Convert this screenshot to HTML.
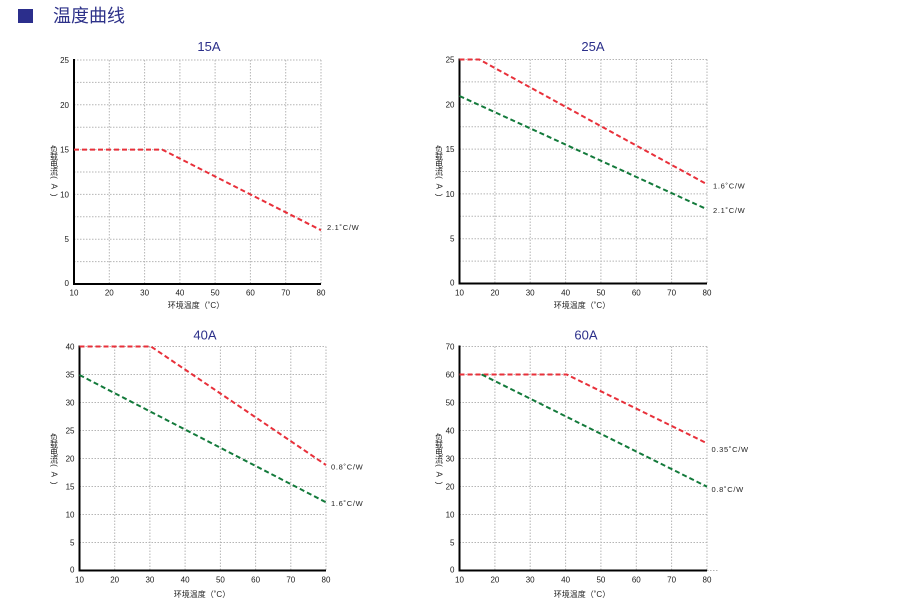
<!DOCTYPE html>
<html><head><meta charset="utf-8">
<style>
html,body{margin:0;padding:0;background:#fff;}
svg{display:block;}
.t{font-family:"Liberation Sans","Noto Sans CJK SC",sans-serif;font-size:8px;fill:#1a1a1a;}
.ti{font-family:"Liberation Sans",sans-serif;font-size:13px;fill:#2b2f8a;text-anchor:middle;}
.cj{font-family:"Liberation Sans","Noto Sans CJK SC",sans-serif;font-size:8px;fill:#222;text-anchor:middle;}
.pa{font-family:"Liberation Sans",sans-serif;font-size:8px;fill:#222;text-anchor:middle;letter-spacing:1.5px;}
.ax{font-family:"Liberation Sans","Noto Sans CJK SC",sans-serif;font-size:8px;fill:#222;text-anchor:middle;}
.lb{font-family:"Liberation Sans",sans-serif;font-size:7.5px;fill:#222;letter-spacing:0.7px;}
.g{stroke:#b5b5b5;stroke-width:1;stroke-dasharray:1.5 1.5;fill:none;}
.a{stroke:#000;stroke-width:2;fill:none;}
.r{stroke:#e8303a;stroke-width:2;stroke-dasharray:5 3;fill:none;}
.gr{stroke:#137a3b;stroke-width:2;stroke-dasharray:5 3;fill:none;}
</style></head>
<body>
<svg width="900" height="614" viewBox="0 0 900 614" xmlns="http://www.w3.org/2000/svg">
<!-- header -->
<rect x="18" y="9" width="15" height="14" fill="#2b2e8c"/>
<text x="53" y="22" font-family="'Liberation Sans','Noto Sans CJK SC',sans-serif" font-size="18" fill="#2d3189">温度曲线</text>

<!-- ============ Chart 1: 15A ============ -->
<text class="ti" x="209" y="51">15A</text>
<path class="g" d="M109.3 60V284M144.6 60V284M179.9 60V284M215.1 60V284M250.4 60V284M285.7 60V284M321 60V284
M74 261.6H321M74 239.2H321M74 216.8H321M74 194.4H321M74 172H321M74 149.6H321M74 127.2H321M74 104.8H321M74 82.4H321M74 60H321"/>
<path class="a" d="M74 59V285M73 284H321"/>
<g class="t" text-anchor="end">
<text x="69" y="63">25</text><text x="69" y="107.8">20</text><text x="69" y="152.6">15</text>
<text x="69" y="197.4">10</text><text x="69" y="242.2">5</text><text x="69" y="286">0</text>
</g>
<g class="t" text-anchor="middle">
<text x="74" y="295.5">10</text><text x="109.3" y="295.5">20</text><text x="144.6" y="295.5">30</text><text x="179.9" y="295.5">40</text>
<text x="215.1" y="295.5">50</text><text x="250.4" y="295.5">60</text><text x="285.7" y="295.5">70</text><text x="321" y="295.5">80</text>
</g>
<text class="ax" x="196" y="308">环境温度（˚C）</text>
<g class="cj"><text x="54" y="152">负</text><text x="54" y="159.5">载</text><text x="54" y="167">电</text><text x="54" y="174.5">流</text></g>
<text class="pa" transform="translate(51.5,187) rotate(90)">( A )</text>
<path class="r" d="M74 149.6H162.2L321 230.2"/>
<text class="lb" x="327" y="230">2.1˚C/W</text>

<!-- ============ Chart 2: 25A ============ -->
<text class="ti" x="593" y="51">25A</text>
<path class="g" d="M494.9 59.5V283.5M530.2 59.5V283.5M565.6 59.5V283.5M600.9 59.5V283.5M636.3 59.5V283.5M671.6 59.5V283.5M707 59.5V283.5
M459.5 261.1H707M459.5 238.7H707M459.5 216.3H707M459.5 193.9H707M459.5 171.5H707M459.5 149.1H707M459.5 126.7H707M459.5 104.3H707M459.5 81.9H707M459.5 59.5H707"/>
<path class="a" d="M459.5 58.5V284.5M458.5 283.5H707"/>
<g class="t" text-anchor="end">
<text x="454.5" y="62.5">25</text><text x="454.5" y="107.3">20</text><text x="454.5" y="152.1">15</text>
<text x="454.5" y="196.9">10</text><text x="454.5" y="241.7">5</text><text x="454.5" y="285.5">0</text>
</g>
<g class="t" text-anchor="middle">
<text x="459.5" y="295.5">10</text><text x="494.9" y="295.5">20</text><text x="530.2" y="295.5">30</text><text x="565.6" y="295.5">40</text>
<text x="600.9" y="295.5">50</text><text x="636.3" y="295.5">60</text><text x="671.6" y="295.5">70</text><text x="707" y="295.5">80</text>
</g>
<text class="ax" x="582" y="308">环境温度（˚C）</text>
<g class="cj"><text x="439" y="152">负</text><text x="439" y="159.5">载</text><text x="439" y="167">电</text><text x="439" y="174.5">流</text></g>
<text class="pa" transform="translate(436.5,187) rotate(90)">( A )</text>
<path class="r" d="M459.5 59.5H479.3L707 184.3"/>
<path class="gr" d="M459.5 96L707 209.3"/>
<text class="lb" x="713" y="188.5">1.6˚C/W</text>
<text class="lb" x="713" y="213">2.1˚C/W</text>

<!-- ============ Chart 3: 40A ============ -->
<text class="ti" x="205" y="339.5">40A</text>
<path class="g" d="M114.7 346.5V570.5M149.9 346.5V570.5M185.1 346.5V570.5M220.4 346.5V570.5M255.6 346.5V570.5M290.8 346.5V570.5M326 346.5V570.5
M79.5 542.5H326M79.5 514.5H326M79.5 486.5H326M79.5 458.5H326M79.5 430.5H326M79.5 402.5H326M79.5 374.5H326M79.5 346.5H326"/>
<path class="a" d="M79.5 345.5V571.5M78.5 570.5H326"/>
<g class="t" text-anchor="end">
<text x="74.5" y="349.5">40</text><text x="74.5" y="377.5">35</text><text x="74.5" y="405.5">30</text><text x="74.5" y="433.5">25</text>
<text x="74.5" y="461.5">20</text><text x="74.5" y="489.5">15</text><text x="74.5" y="517.5">10</text><text x="74.5" y="545.5">5</text><text x="74.5" y="572.5">0</text>
</g>
<g class="t" text-anchor="middle">
<text x="79.5" y="582.5">10</text><text x="114.7" y="582.5">20</text><text x="149.9" y="582.5">30</text><text x="185.1" y="582.5">40</text>
<text x="220.4" y="582.5">50</text><text x="255.6" y="582.5">60</text><text x="290.8" y="582.5">70</text><text x="326" y="582.5">80</text>
</g>
<text class="ax" x="202" y="597">环境温度（˚C）</text>
<g class="cj"><text x="54" y="440">负</text><text x="54" y="447.5">载</text><text x="54" y="455">电</text><text x="54" y="462.5">流</text></g>
<text class="pa" transform="translate(51.5,475) rotate(90)">( A )</text>
<path class="r" d="M79.5 346.5H151L326 465"/>
<path class="gr" d="M79.5 375L326 502.3"/>
<text class="lb" x="331" y="469.5">0.8˚C/W</text>
<text class="lb" x="331" y="506">1.6˚C/W</text>

<!-- ============ Chart 4: 60A ============ -->
<text class="ti" x="586" y="339.5">60A</text>
<path class="g" d="M494.9 346.5V570.5M530.2 346.5V570.5M565.6 346.5V570.5M600.9 346.5V570.5M636.3 346.5V570.5M671.6 346.5V570.5M707 346.5V570.5
M459.5 542.5H707M459.5 514.5H707M459.5 486.5H707M459.5 458.5H707M459.5 430.5H707M459.5 402.5H707M459.5 374.5H707M459.5 346.5H707M707 570.5H718"/>
<path class="a" d="M459.5 345.5V571.5M458.5 570.5H707"/>
<g class="t" text-anchor="end">
<text x="454.5" y="349.5">70</text><text x="454.5" y="377.5">60</text><text x="454.5" y="405.5">50</text><text x="454.5" y="433.5">40</text>
<text x="454.5" y="461.5">30</text><text x="454.5" y="489.5">20</text><text x="454.5" y="517.5">10</text><text x="454.5" y="545.5">5</text><text x="454.5" y="572.5">0</text>
</g>
<g class="t" text-anchor="middle">
<text x="459.5" y="582.5">10</text><text x="494.9" y="582.5">20</text><text x="530.2" y="582.5">30</text><text x="565.6" y="582.5">40</text>
<text x="600.9" y="582.5">50</text><text x="636.3" y="582.5">60</text><text x="671.6" y="582.5">70</text><text x="707" y="582.5">80</text>
</g>
<text class="ax" x="582" y="597">环境温度（˚C）</text>
<g class="cj"><text x="439" y="440">负</text><text x="439" y="447.5">载</text><text x="439" y="455">电</text><text x="439" y="462.5">流</text></g>
<text class="pa" transform="translate(436.5,475) rotate(90)">( A )</text>
<path class="r" d="M459.5 374.5H566.7L707 443.3"/>
<path class="gr" d="M481.7 374.5L707 486.7"/>
<text class="lb" x="711.5" y="452">0.35˚C/W</text>
<text class="lb" x="711.5" y="492">0.8˚C/W</text>
</svg>
</body></html>
